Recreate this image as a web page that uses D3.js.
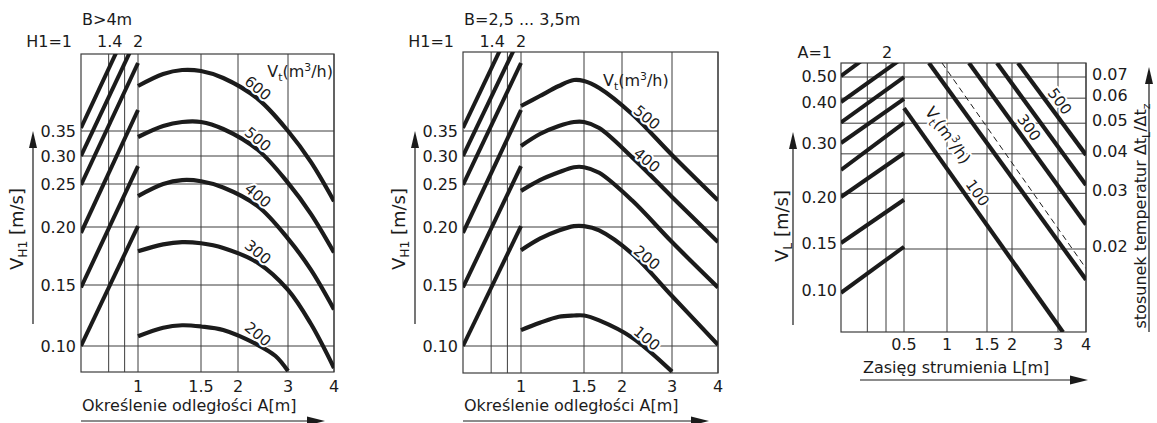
<!DOCTYPE html>
<html>
<head>
<meta charset="utf-8">
<script src="https://cdn.jsdelivr.net/npm/d3@7"></script>
<style>
html,body{margin:0;padding:0;background:#fff;}
svg{display:block;}
text{font-family:"DejaVu Sans","Liberation Sans",Arial,sans-serif;fill:#1b1b1b;}
</style>
</head>
<body>
<svg id="chart" width="1157" height="423"></svg>
<script>
// ===================== DATA =====================
// Panels 1 & 2 : V_H1 [m/s] ticks, A [m] ticks, H1 guides
const vh1Ticks = [0.10, 0.15, 0.20, 0.25, 0.30, 0.35];
const aTicks = [1, 1.5, 2, 3, 4];
const h1Grid = [1.4, 1.7];
const h1TickLabels = ["H1=1", "1.4", "2"];
const h1TickValues = [1, 1.4, 2];

// Panel 1 : B>4m
const p1H1From = [0.356, 0.300, 0.249, 0.195, 0.148, 0.100]; // V at H1=1
const p1H1To   = [0.600, 0.542, 0.486, 0.392, 0.282, 0.201]; // V at H1=2
const p1Flows  = [600, 500, 400, 300, 200];
const p1A      = [1, 1.2, 1.35, 1.5, 1.8, 2.4, 3, 3.5, 4];
const p1V600   = [0.440, 0.464, 0.472, 0.470, 0.456, 0.414, 0.350, 0.289, 0.230];
const p1V500   = [0.338, 0.360, 0.368, 0.368, 0.354, 0.312, 0.252, 0.215, 0.178];
const p1V400   = [0.236, 0.250, 0.257, 0.255, 0.246, 0.224, 0.190, 0.163, 0.130];
const p1V300   = [0.179, 0.185, 0.187, 0.186, 0.182, 0.169, 0.146, 0.118, 0.082];
const p1A200   = [1, 1.2, 1.35, 1.5, 1.8, 2.4, 2.75, 3];
const p1V200   = [0.108, 0.115, 0.117, 0.116, 0.1131, 0.1008, 0.0918, 0.0795];

// Panel 2 : B=2,5 ... 3,5m
const p2H1From = [0.356, 0.300, 0.249, 0.195, 0.148, 0.100];
const p2H1To   = [0.600, 0.542, 0.486, 0.392, 0.282, 0.201];
const p2Flows  = [500, 400, 300, 200, 100];
const p2A      = [1, 1.15, 1.3, 1.42, 1.5, 1.7, 2.2, 3, 4];
const p2V500   = [0.400, 0.420, 0.440, 0.452, 0.450, 0.436, 0.384, 0.302, 0.231];
const p2V400   = [0.320, 0.344, 0.360, 0.368, 0.368, 0.356, 0.298, 0.235, 0.187];
const p2V300   = [0.242, 0.257, 0.271, 0.280, 0.280, 0.270, 0.231, 0.187, 0.148];
const p2V200   = [0.180, 0.190, 0.197, 0.201, 0.201, 0.197, 0.177, 0.141, 0.101];
const p2A100   = [1, 1.15, 1.3, 1.42, 1.5, 1.7, 2.2, 3];
const p2V100   = [0.113, 0.119, 0.124, 0.125, 0.125, 0.121, 0.107, 0.079];
const p2Labeled = [500, 400, 200, 100];

// Panel 3 : V_L vs jet range L
const vlTicks   = [0.10, 0.15, 0.20, 0.30, 0.40, 0.50];
const lTicks    = [0.5, 1, 1.5, 2, 3, 4];
const dtTicks   = [0.02, 0.03, 0.04, 0.05, 0.06, 0.07];
const a3Grid    = [1.5, 2];
const a3TickLabels = ["A=1", "2"];
const a3TickValues = [1, 2];
const a3End     = 2.64;                     // A value at the L=0.5 boundary
const a3From    = [0.50, 0.40, 0.35, 0.30, 0.25, 0.20, 0.15, 0.097]; // V_L at A=1
const a3To      = [0.68, 0.573, 0.496, 0.412, 0.349, 0.281, 0.197, 0.146]; // V_L at A end
const p3Flows   = [100, 200, 300, 400, 500];
const p3LFrom   = [0.5, 0.79, 1.275, 1.7, 2.13];
const p3VFrom   = [0.385, 0.55, 0.55, 0.55, 0.55];
const p3LTo     = [3.18, 4, 4, 4, 4];
const p3VTo     = [0.055, 0.111, 0.170, 0.222, 0.278];
const p3Dashed  = [[0.942, 0.55], [4, 0.123]];
const p3Labeled = [[100, 1.27], [300, 2.18], [500, 2.85]];

// ===================== DRAW =====================
const INK = "#1b1b1b", GRID = "#3c3c3c";
const svg = d3.select("#chart");

function txt(g, x, y, s, o = {}) {
  const t = g.append("text")
    .attr("transform", `translate(${x},${y})` + (o.rot ? ` rotate(${o.rot})` : ""))
    .attr("text-anchor", o.anchor || "start")
    .style("font-size", (o.size || 16) + "px");
  if (o.mid) t.attr("dy", "0.36em");
  if (o.halo) t.attr("stroke", "#fff").attr("stroke-width", 4).attr("paint-order", "stroke").attr("stroke-linejoin", "round");
  if (Array.isArray(s)) {
    const fs = o.size || 16; let shift = 0;
    s.forEach(p => {
      const target = p.sub ? fs * 0.22 : p.sup ? -fs * 0.4 : 0;
      t.append("tspan").attr("dy", target - shift)
        .style("font-size", (p.sub || p.sup ? fs * 0.68 : fs) + "px").text(p.t);
      shift = target;
    });
  } else t.text(s);
  return t;
}
const vtParts = [{t:"V"},{t:"t",sub:true},{t:"(m"},{t:"3",sup:true},{t:"/h)"}];

function arrowH(g, x1, tip, y) {
  g.append("line").attr("x1", x1).attr("x2", tip - 12).attr("y1", y).attr("y2", y)
    .attr("stroke", INK).attr("stroke-width", 1.2);
  g.append("path").attr("d", `M${tip},${y}L${tip-18},${y-4.5}L${tip-18},${y+4.5}Z`).attr("fill", INK);
}
function arrowV(g, x, y1, tip) {
  g.append("line").attr("x1", x).attr("x2", x).attr("y1", y1).attr("y2", tip + 12)
    .attr("stroke", INK).attr("stroke-width", 1.2);
  g.append("path").attr("d", `M${x},${tip}L${x-4},${tip+17}L${x+4},${tip+17}Z`).attr("fill", INK);
}
function hline(g, x1, x2, y, w) {
  g.append("line").attr("x1", x1).attr("x2", x2).attr("y1", y).attr("y2", y)
    .attr("stroke", GRID).attr("stroke-width", w || 1);
}
function vline(g, x, y1, y2, w) {
  g.append("line").attr("x1", x).attr("x2", x).attr("y1", y1).attr("y2", y2)
    .attr("stroke", GRID).attr("stroke-width", w || 1);
}
function interpY(pts, x) {
  for (let i = 0; i < pts.length - 1; i++) {
    const a = pts[i], b = pts[i + 1];
    if (x >= a[0] && x <= b[0]) return a[1] + (b[1] - a[1]) * (x - a[0]) / (b[0] - a[0]);
  }
  return pts[pts.length - 1][1];
}

function drawHPanel(cfg) {
  const g = svg.append("g");
  const y = d3.scaleLinear().domain(vh1Ticks).range([346, 285, 227, 184, 156, 131]);
  const x = d3.scaleLinear().domain(aTicks).range(cfg.aPx);
  const h = d3.scaleLog().domain([1, 2]).range([cfg.left, cfg.aPx[0]]);
  const {left, right, top, bottom} = cfg;

  vh1Ticks.forEach(v => hline(g, left, right, y(v)));
  h1Grid.forEach(v => vline(g, h(v), top, bottom));
  aTicks.forEach(v => vline(g, x(v), top, bottom));
  g.append("rect").attr("x", left).attr("y", top).attr("width", right - left).attr("height", bottom - top)
    .attr("fill", "none").attr("stroke", GRID).attr("stroke-width", 1.2);

  const clipId = "clip" + cfg.id;
  svg.append("clipPath").attr("id", clipId).append("rect")
    .attr("x", left).attr("y", top).attr("width", right - left).attr("height", bottom - top);
  const c = g.append("g").attr("clip-path", `url(#${clipId})`);

  const hl = d3.line().x(d => h(d[0])).y(d => y(d[1]));
  cfg.from.forEach((v, i) => {
    c.append("path").attr("d", hl([[1, v], [2, cfg.to[i]]]))
      .attr("fill", "none").attr("stroke", INK).attr("stroke-width", 4);
  });

  const cl = d3.line().x(d => x(d[0])).y(d => y(d[1])).curve(d3.curveCatmullRom.alpha(0.5));
  cfg.curves.forEach(cv => {
    const pts = cv.A.map((a, i) => [a, cv.V[i]]);
    c.append("path").attr("d", cl(pts)).attr("fill", "none").attr("stroke", INK).attr("stroke-width", 4.2);
  });
  cfg.curves.filter(cv => cfg.labeled.includes(cv.flow)).forEach(cv => {
    const px = cv.A.map((a, i) => [x(a), y(cv.V[i])]);
    const lx = x(cfg.labelA);
    const ly = interpY(px, lx) + cfg.labelOff;
    txt(g, lx, ly, String(cv.flow), {anchor: "middle", size: 15, rot: 40, mid: true, halo: true});
  });

  // ticks
  vh1Ticks.forEach(v => txt(g, left - 5, y(v), v.toFixed(2), {anchor: "end", mid: true}));
  aTicks.forEach(v => txt(g, x(v), 392, String(v), {anchor: "middle"}));
  h1TickLabels.forEach((s, i) => {
    const v = h1TickValues[i];
    if (v === 1) txt(g, h(v) - 9, 47, s, {anchor: "end"});
    else txt(g, h(v) + (v === 2 ? 0 : 1), 47, s, {anchor: "middle"});
  });
  txt(g, left + 1, 25, cfg.topLabel);
  txt(g, cfg.vtX, cfg.vtY, vtParts, {anchor: cfg.vtAnchor});
  txt(g, left + 1, 411, "Określenie odległości A[m]");
  arrowH(g, left, right - 9, 421);
  txt(g, left - 58, 229, [{t:"V"},{t:"H1",sub:true},{t:" [m/s]"}], {anchor: "middle", rot: -90, size: 18});
  arrowV(g, left - 48, 324, 131);
}

drawHPanel({
  id: 1, left: 81, right: 334, top: 54, bottom: 372, aPx: [138, 201, 238, 288, 334],
  from: p1H1From, to: p1H1To,
  curves: [
    {flow: 600, A: p1A, V: p1V600}, {flow: 500, A: p1A, V: p1V500},
    {flow: 400, A: p1A, V: p1V400}, {flow: 300, A: p1A, V: p1V300},
    {flow: 200, A: p1A200, V: p1V200}],
  labeled: p1Flows, labelA: 2.4, labelOff: -11,
  topLabel: "B>4m", vtX: 333, vtY: 77, vtAnchor: "end"
});
drawHPanel({
  id: 2, left: 463, right: 718, top: 52, bottom: 373, aPx: [521, 584, 622, 672, 718],
  from: p2H1From, to: p2H1To,
  curves: [
    {flow: 500, A: p2A, V: p2V500}, {flow: 400, A: p2A, V: p2V400},
    {flow: 300, A: p2A, V: p2V300}, {flow: 200, A: p2A, V: p2V200},
    {flow: 100, A: p2A100, V: p2V100}],
  labeled: p2Labeled, labelA: 2.5, labelOff: -12,
  topLabel: "B=2,5 ... 3,5m", vtX: 603, vtY: 86, vtAnchor: "start"
});

// ---------- Panel 3 ----------
(function () {
  const g = svg.append("g");
  const left = 841, right = 1086, top = 63, bottom = 332;
  const y = d3.scaleLinear().domain(vlTicks).range([290, 243, 197, 143, 102, 76]);
  const yr = d3.scaleLog().domain([0.02, 0.07]).range([249, 77]);
  const x = d3.scaleLinear().domain(lTicks).range([904, 947, 987, 1012, 1058, 1086]);
  const a = d3.scaleLog().domain([1, 2]).range([left, 886]);

  dtTicks.forEach(v => hline(g, left, right, yr(v)));
  a3Grid.forEach(v => vline(g, a(v), top, bottom));
  lTicks.forEach(v => vline(g, x(v), top, bottom));
  g.append("rect").attr("x", left).attr("y", top).attr("width", right - left).attr("height", bottom - top)
    .attr("fill", "none").attr("stroke", GRID).attr("stroke-width", 1.2);

  svg.append("clipPath").attr("id", "clip3").append("rect")
    .attr("x", left).attr("y", top).attr("width", right - left).attr("height", bottom - top);
  const c = g.append("g").attr("clip-path", "url(#clip3)");

  const al = d3.line().x(d => a(d[0])).y(d => y(d[1]));
  a3From.forEach((v, i) => c.append("path").attr("d", al([[1, v], [a3End, a3To[i]]]))
    .attr("fill", "none").attr("stroke", INK).attr("stroke-width", 4));

  const ll = d3.line().x(d => x(d[0])).y(d => y(d[1]));
  c.append("path").attr("d", ll(p3Dashed)).attr("fill", "none").attr("stroke", INK)
    .attr("stroke-width", 1).attr("stroke-dasharray", "6,4");
  const segs = {};
  p3Flows.forEach((f, i) => {
    const pts = [[p3LFrom[i], p3VFrom[i]], [p3LTo[i], p3VTo[i]]];
    segs[f] = pts.map(p => [x(p[0]), y(p[1])]);
    c.append("path").attr("d", ll(pts)).attr("fill", "none").attr("stroke", INK).attr("stroke-width", 4.2);
  });
  function onLine(f, L, d) {
    const [p0, p1] = segs[f];
    const px = x(L);
    const py = p0[1] + (p1[1] - p0[1]) * (px - p0[0]) / (p1[0] - p0[0]);
    const ang = Math.atan2(p1[1] - p0[1], p1[0] - p0[0]);
    return [px + Math.sin(ang) * d, py - Math.cos(ang) * d, ang * 180 / Math.PI];
  }
  p3Labeled.forEach(([f, L]) => {
    const [lx, ly, r] = onLine(f, L, 11);
    txt(g, lx, ly, String(f), {anchor: "middle", size: 15, rot: r, mid: true, halo: true});
  });
  { const [lx, ly, r] = onLine(100, 0.82, 14.5);
    txt(g, lx, ly, vtParts, {anchor: "middle", size: 16, rot: r, mid: true, halo: true}); }

  vlTicks.forEach(v => txt(g, left - 4, y(v), v.toFixed(2), {anchor: "end", mid: true}));
  dtTicks.forEach(v => txt(g, right + 6, yr(v) - 3, v.toFixed(2), {anchor: "start", mid: true}));
  lTicks.forEach(v => txt(g, x(v), 350, String(v), {anchor: "middle"}));
  a3TickLabels.forEach((s, i) => {
    const v = a3TickValues[i];
    if (v === 1) txt(g, a(v) - 9, 58, s, {anchor: "end"});
    else txt(g, a(v) + 1, 58, s, {anchor: "middle"});
  });
  txt(g, 863, 373, "Zasięg strumienia L[m]");
  arrowH(g, 860, 1088, 380);
  txt(g, 788, 226, [{t:"V"},{t:"L",sub:true},{t:" [m/s]"}], {anchor: "middle", rot: -90, size: 18});
  arrowV(g, 793, 325, 132);
  txt(g, 1146, 216, [{t:"stosunek temperatur Δt"},{t:"L",sub:true},{t:"/Δt"},{t:"z",sub:true}], {anchor: "middle", rot: -90, size: 16});
  arrowV(g, 1149, 332, 67);
})();
</script>
</body>
</html>
